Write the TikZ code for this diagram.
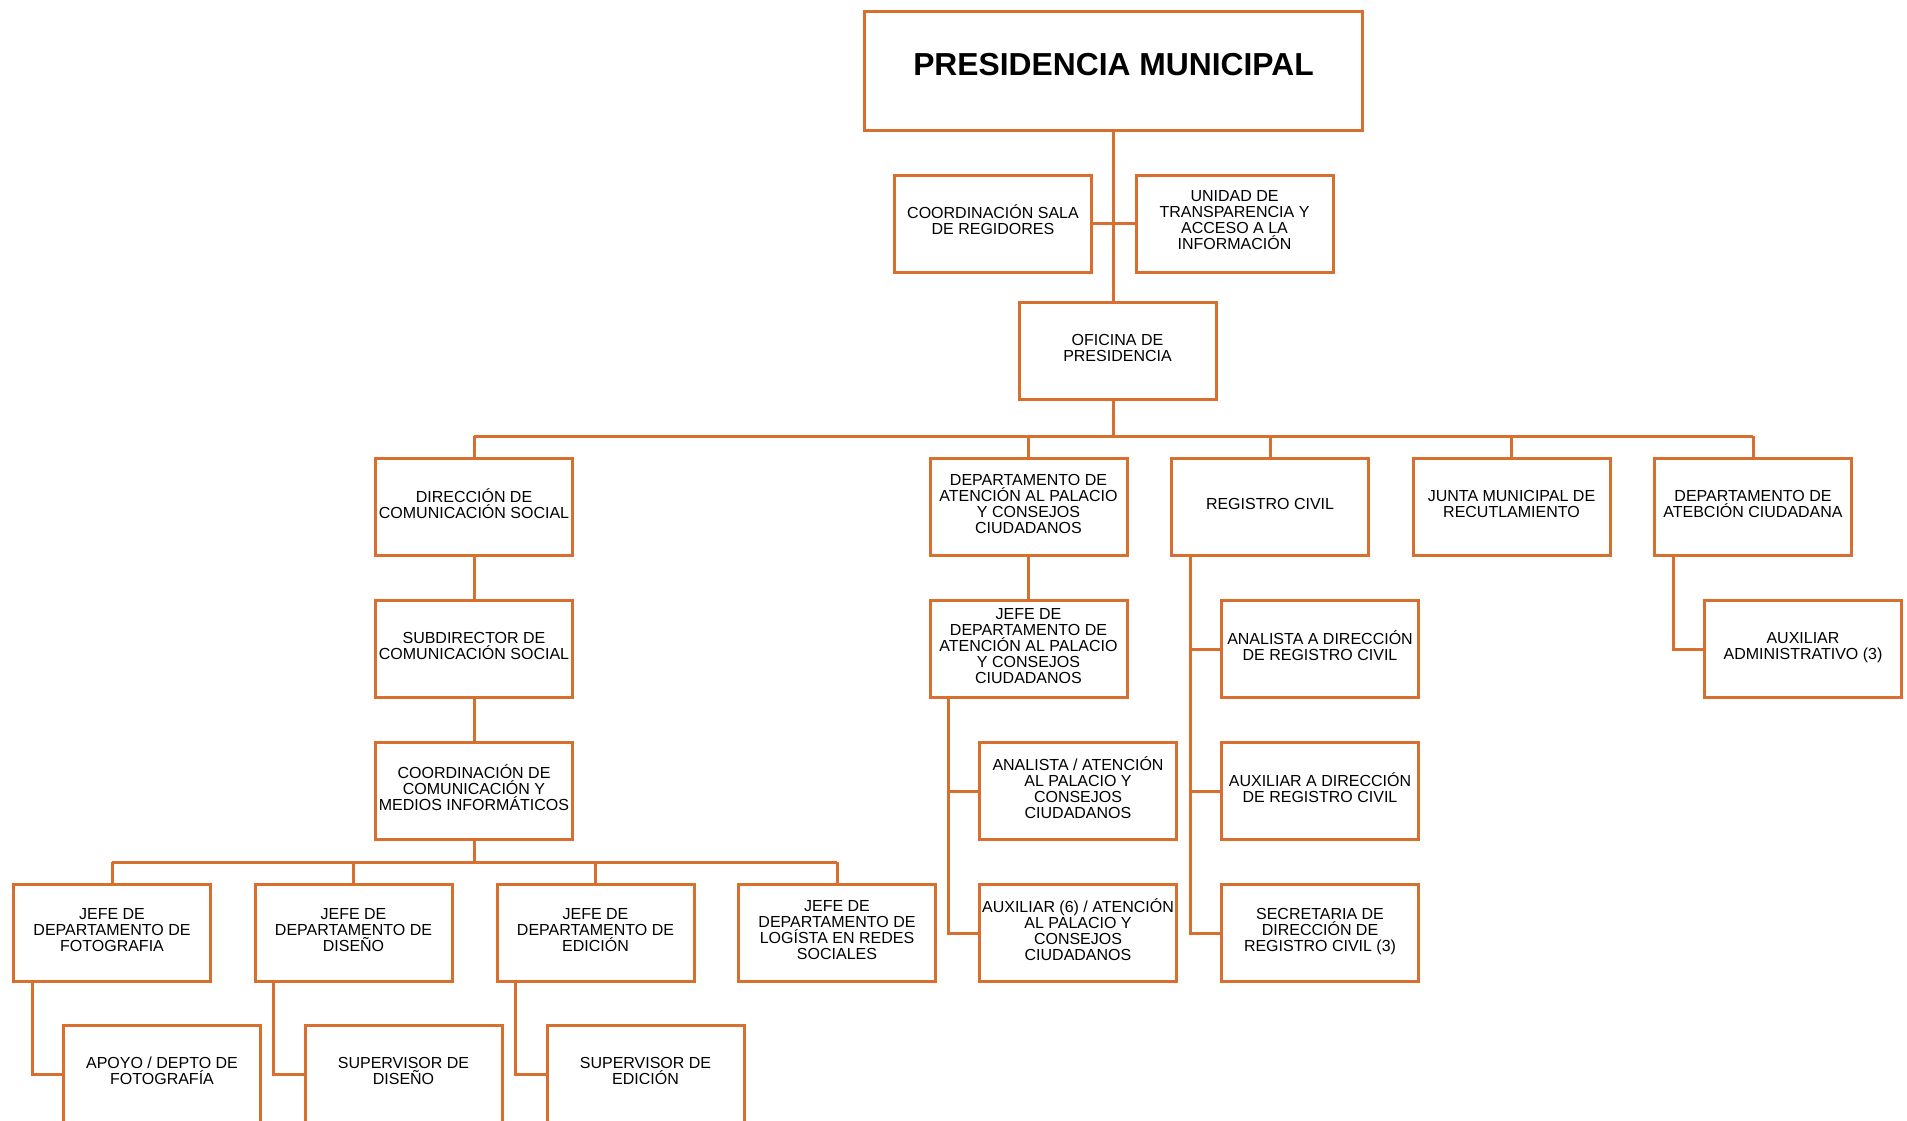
\documentclass[tikz,border=0pt]{standalone}
\usepackage{fontspec}
\setmainfont{Liberation Sans}
\usepackage{xcolor}
\definecolor{orgline}{HTML}{D86F2F}
\newcommand{\orgfont}{\fontsize{8}{8}\selectfont}
\newcommand{\orgtitlefont}{\fontsize{15.9}{17}\selectfont\bfseries}
\tikzset{
  orgbox/.style={draw=orgline, line width=1.5pt, minimum width=98.5pt, minimum height=48.5pt,
    inner sep=0pt, align=center, font=\orgfont, text depth=3.5pt},
  orglink/.style={draw=orgline, line width=1.5pt}
}

\begin{document}
\begin{tikzpicture}[x=0.5pt, y=-0.5pt]
            \useasboundingbox (0,0) rectangle (1907,1120);

            % Head of the chart
            \node[orgbox, minimum width=249pt, minimum height=59.5pt, font=\orgtitlefont, text depth=7pt] (pres) at (1113.5,71) {PRESIDENCIA MUNICIPAL};
            \node[orgbox] (sala) at (993,223.5) {COORDINACIÓN SALA\\DE REGIDORES};
            \node[orgbox] (transp) at (1234.5,223.5) {UNIDAD DE\\TRANSPARENCIA Y\\ACCESO A LA\\INFORMACIÓN};
            \node[orgbox] (ofi) at (1117.5,351) {OFICINA DE\\PRESIDENCIA};

            % First level under the office
            \node[orgbox] (dircs) at (474,507) {DIRECCIÓN DE\\COMUNICACIÓN SOCIAL};
            \node[orgbox] (depatn) at (1028.5,507) {DEPARTAMENTO DE\\ATENCIÓN AL PALACIO\\Y CONSEJOS\\CIUDADANOS};
            \node[orgbox] (regciv) at (1270,507) {REGISTRO CIVIL};
            \node[orgbox] (junta) at (1511.5,507) {JUNTA MUNICIPAL DE\\RECUTLAMIENTO};
            \node[orgbox] (atncd) at (1753,507) {DEPARTAMENTO DE\\ATEBCIÓN CIUDADANA};

            % Second level
            \node[orgbox] (subdir) at (474,649) {SUBDIRECTOR DE\\COMUNICACIÓN SOCIAL};
            \node[orgbox] (jefeatn) at (1028.5,649) {JEFE DE\\DEPARTAMENTO DE\\ATENCIÓN AL PALACIO\\Y CONSEJOS\\CIUDADANOS};
            \node[orgbox] (analrc) at (1320,649) {ANALISTA A DIRECCIÓN\\DE REGISTRO CIVIL};
            \node[orgbox] (auxadm) at (1803,649) {AUXILIAR\\ADMINISTRATIVO (3)};

            % Third level
            \node[orgbox] (coordcm) at (474,791) {COORDINACIÓN DE\\COMUNICACIÓN Y\\MEDIOS INFORMÁTICOS};
            \node[orgbox] (analatn) at (1078,791) {ANALISTA / ATENCIÓN\\AL PALACIO Y\\CONSEJOS\\CIUDADANOS};
            \node[orgbox] (auxrc) at (1320,791) {AUXILIAR A DIRECCIÓN\\DE REGISTRO CIVIL};

            % Fourth level
            \node[orgbox] (jfoto) at (112,933) {JEFE DE\\DEPARTAMENTO DE\\FOTOGRAFIA};
            \node[orgbox] (jdis) at (353.5,933) {JEFE DE\\DEPARTAMENTO DE\\DISEÑO};
            \node[orgbox] (jedi) at (595.5,933) {JEFE DE\\DEPARTAMENTO DE\\EDICIÓN};
            \node[orgbox] (jlog) at (837,933) {JEFE DE\\DEPARTAMENTO DE\\LOGÍSTA EN REDES\\SOCIALES};
            \node[orgbox] (auxatn) at (1078,933) {AUXILIAR (6) / ATENCIÓN\\AL PALACIO Y\\CONSEJOS\\CIUDADANOS};
            \node[orgbox] (secrc) at (1320,933) {SECRETARIA DE\\DIRECCIÓN DE\\REGISTRO CIVIL (3)};

            % Fifth level
            \node[orgbox] (apoyo) at (162,1074) {APOYO / DEPTO DE\\FOTOGRAFÍA};
            \node[orgbox] (supdis) at (403.5,1074) {SUPERVISOR DE\\DISEÑO};
            \node[orgbox] (supedi) at (645.5,1074) {SUPERVISOR DE\\EDICIÓN};

            % Bus lines
            \coordinate (bus1) at (1113.5,436);
            \coordinate (bus2) at (474,862);

            % Top connectors
            \draw[orglink] (pres.south) -- (pres.south |- ofi.north);
            \draw[orglink] (sala.east) -- (transp.west);
            \draw[orglink] (pres.south |- ofi.south) -- (bus1);
            \draw[orglink] (dircs.north |- bus1) -- (atncd.north |- bus1);
            \foreach \n in {dircs,depatn,regciv,junta,atncd}
                \draw[orglink] (\n.north) -- (\n.north |- bus1);

            % Communication branch
            \draw[orglink] (dircs) -- (subdir);
            \draw[orglink] (subdir) -- (coordcm);
            \draw[orglink] (coordcm.south) -- (bus2);
            \draw[orglink] (jfoto.north |- bus2) -- (jlog.north |- bus2);
            \foreach \n in {jfoto,jdis,jedi,jlog}
                \draw[orglink] (\n.north) -- (\n.north |- bus2);
            \draw[orglink] ([xshift=10pt]jfoto.south west) |- (apoyo.west);
            \draw[orglink] ([xshift=10pt]jdis.south west) |- (supdis.west);
            \draw[orglink] ([xshift=10pt]jedi.south west) |- (supedi.west);

            % Palace attention branch
            \draw[orglink] (depatn) -- (jefeatn);
            \draw[orglink] ([xshift=10pt]jefeatn.south west) |- (auxatn.west);
            \draw[orglink] ([xshift=10pt]jefeatn.south west |- analatn.west) -- (analatn.west);

            % Civil registry branch
            \draw[orglink] ([xshift=10pt]regciv.south west) |- (secrc.west);
            \draw[orglink] ([xshift=10pt]regciv.south west |- analrc.west) -- (analrc.west);
            \draw[orglink] ([xshift=10pt]regciv.south west |- auxrc.west) -- (auxrc.west);

            % Citizen attention branch
            \draw[orglink] ([xshift=10pt]atncd.south west) |- (auxadm.west);
\end{tikzpicture}
\end{document}
